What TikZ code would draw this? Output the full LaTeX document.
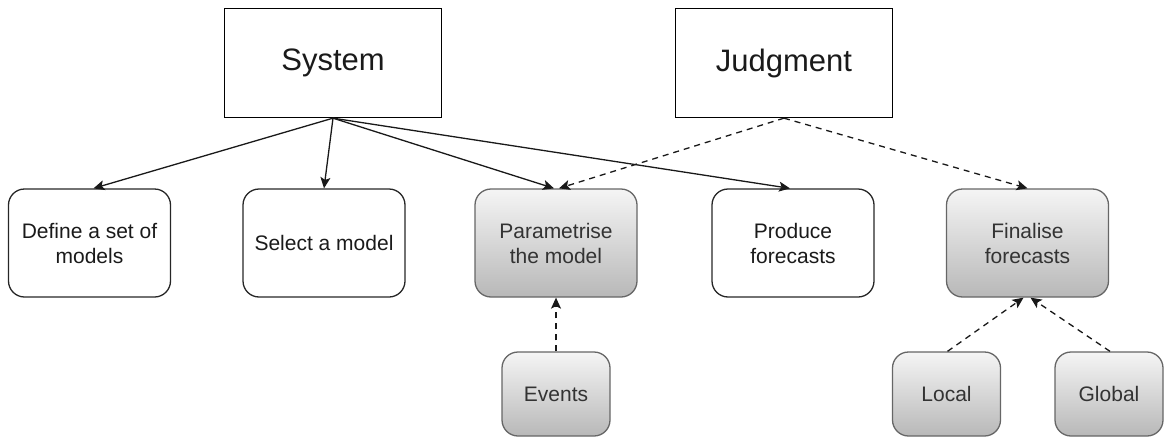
\documentclass[tikz,border=0pt]{standalone}
\usepackage{fontspec}
\setmainfont{Liberation Sans}
\usetikzlibrary{arrows.meta}
\definecolor{txt}{HTML}{1A1A1A}
\definecolor{gtxt}{HTML}{333333}
\definecolor{gstroke}{HTML}{666666}
\definecolor{gtop}{HTML}{F5F5F5}
\definecolor{gbot}{HTML}{B8B8B8}
\tikzset{
  bigbox/.style={draw=black, line width=1.3pt, minimum width=217pt, minimum height=109pt, inner sep=0pt,
    font=\fontsize{31}{37}\selectfont, text=txt},
  whitebox/.style={draw=black!85, line width=1.3pt, rounded corners=16pt, minimum width=162pt, minimum height=108pt,
    inner sep=0pt, align=center, font=\fontsize{21}{25}\selectfont, text=txt},
  graybox/.style={draw=gstroke, line width=1.3pt, rounded corners=16pt, top color=gtop, bottom color=gbot,
    minimum width=162pt, minimum height=108pt, inner sep=0pt, align=center, font=\fontsize{21}{25}\selectfont, text=gtxt},
  smallbox/.style={graybox, minimum width=108pt, minimum height=84pt},
  solidarrow/.style={draw=black!90, line width=1.3pt, -{Stealth[length=11pt,width=10pt,inset=2.5pt]}},
  dasharrow/.style={solidarrow, dash pattern=on 6pt off 5pt},
}
\begin{document}
\begin{tikzpicture}[x=1pt,y=-1pt]
\useasboundingbox (0,0) rectangle (1165,442);
\node[bigbox] (sys) at (333,63) {System};
\node[bigbox] (jud) at (784,63) {Judgment};

\node[whitebox] (def) at (89.5,243) {Define a set of\\models};
\node[whitebox] (sel) at (324,243) {Select a model};
\node[graybox] (par) at (556,243) {Parametrise\\the model};
\node[whitebox] (pro) at (793,243) {Produce\\forecasts};
\node[graybox] (fin) at (1027.5,243) {Finalise\\forecasts};

\node[smallbox] (evt) at (556,394) {Events};
\node[smallbox] (loc) at (946.5,394) {Local};
\node[smallbox] (glo) at (1109,394) {Global};

\draw[solidarrow] (sys.south) -- ([xshift=4pt]def.north);
\draw[solidarrow] (sys.south) -- (sel.north);
\draw[solidarrow] (sys.south) -- ([xshift=-2pt]par.north);
\draw[solidarrow] (sys.south) -- ([xshift=-3pt]pro.north);

\draw[dasharrow] (jud.south) -- ([xshift=3pt]par.north);
\draw[dasharrow] (jud.south) -- (fin.north);

\draw[dasharrow] (evt.north) -- (par.south);
\draw[dasharrow] ([xshift=1pt]loc.north) -- ([xshift=-4pt]fin.south);
\draw[dasharrow] ([xshift=1pt]glo.north) -- ([xshift=3pt]fin.south);
\end{tikzpicture}
\end{document}
